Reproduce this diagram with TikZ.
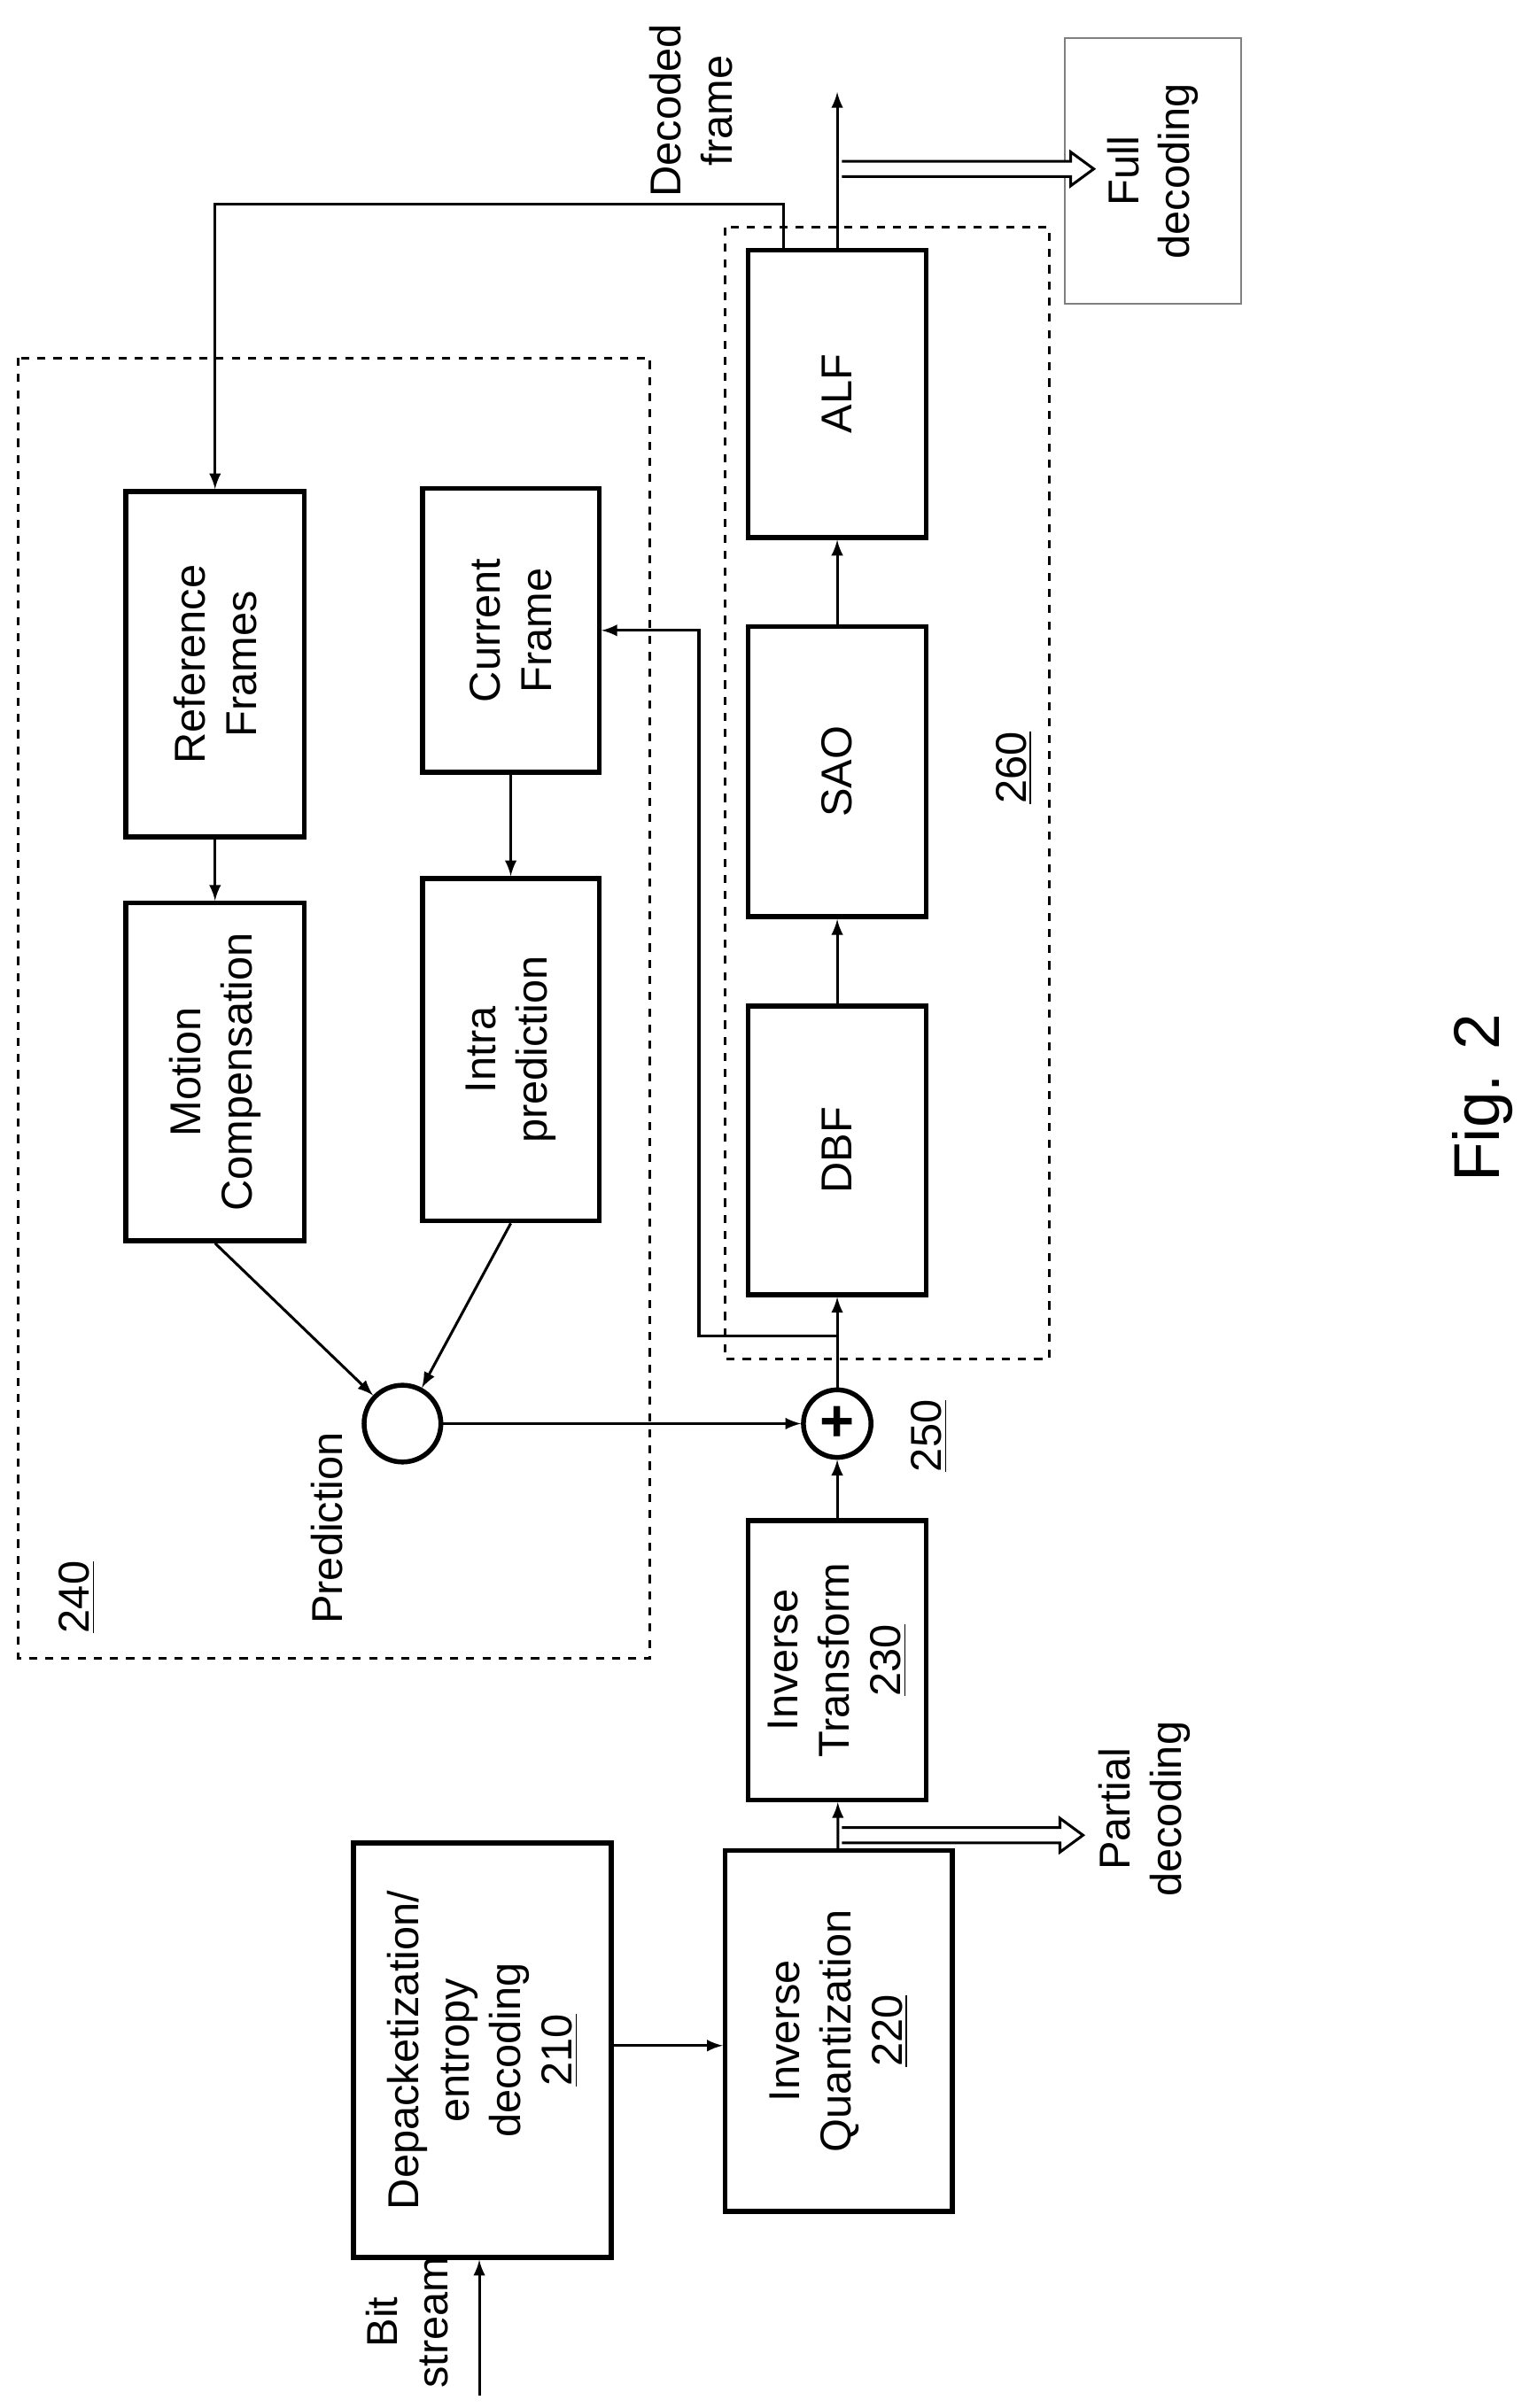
\documentclass[tikz,border=0pt]{standalone}
\usepackage{fontspec}
\setmainfont{Liberation Sans}
\begin{document}
\begin{tikzpicture}[x=0.02cm,y=-0.02cm,
  every node/.style={font=\fontsize{16}{19}\selectfont},
  box/.style={draw,line width=1.8pt,rotate=90,align=center,inner sep=0pt},
  lbl/.style={rotate=90,align=center},
  arr/.style={->,>=latex,line width=1pt},
  dashbox/.style={draw,dashed,line width=1pt}]
\useasboundingbox (0,0) rectangle (1000,1568);
\draw[dashbox] (12,233) rectangle (423,1080);
\draw[dashbox] (472,148) rectangle (683,885);
\node[box,minimum width=4.5cm,minimum height=2.32cm] (ref) at (140,432.5) {Reference\\Frames};
\node[box,minimum width=4.4cm,minimum height=2.32cm] (mc) at (140,698) {Motion\\Compensation};
\node[box,minimum width=3.7cm,minimum height=2.3cm] (cur) at (332.5,410.5) {Current\\Frame};
\node[box,minimum width=4.46cm,minimum height=2.3cm] (intra) at (332.5,683.5) {Intra\\prediction};
\node[box,minimum width=3.74cm,minimum height=2.32cm] (alf) at (545,256.5) {ALF};
\node[box,minimum width=3.78cm,minimum height=2.32cm] (sao) at (545,502.5) {SAO};
\node[box,minimum width=3.76cm,minimum height=2.32cm] (dbf) at (545,749) {DBF};
\node[box,minimum width=3.64cm,minimum height=2.32cm] (it) at (545,1081) {Inverse\\Transform\\\underline{230}};
\node[box,minimum width=4.7cm,minimum height=2.96cm] (iq) at (546,1322.5) {Inverse\\Quantization\\\underline{220}};
\node[box,minimum width=5.4cm,minimum height=3.36cm] (dep) at (314,1335) {Depacketization/\\entropy\\decoding\\\underline{210}};
\node[draw=gray,line width=0.6pt,rotate=90,align=center,minimum width=3.46cm,minimum height=2.3cm] (full) at (750.5,111.5) {Full\\decoding};
\node[draw,circle,line width=1.8pt,minimum size=1cm,inner sep=0pt] (pred) at (262,927) {};
\node[draw,circle,line width=1.8pt,minimum size=0.88cm,inner sep=0pt,font=\fontsize{22}{24}\selectfont\bfseries] (sum) at (545,927) {+};
\node[lbl] (plbl) at (213,995) {Prediction};
\node[lbl] (l240) at (50,1040) {\underline{240}};
\node[lbl] (l260) at (660,500) {\underline{260}};
\node[lbl] (l250) at (605,935) {\underline{250}};
\node[lbl] (bits) at (265,1512) {Bit\\stream};
\node[lbl] (part) at (745,1178) {Partial\\decoding};
\node[lbl] (dec) at (450,72) {Decoded\\frame};
\node[rotate=90,font=\fontsize{24}{28}\selectfont] (fig) at (965,715) {Fig. 2};
\coordinate (bsin) at (312,1560);
\coordinate (out) at (545,60);
\coordinate (fb) at (510,0);
\coordinate (br) at (545,870);
\coordinate (brl) at (455,870);
\coordinate (dq) at (0,1332);
\draw[arr] (ref) -- (mc);
\draw[arr] (cur) -- (intra);
\draw[arr] (mc.west) -- (pred);
\draw[arr] (intra.west) -- (pred);
\draw[arr] (pred) -- (sum);
\draw[arr] (bsin) -- (bsin |- dep.west);
\draw[arr] (dep.south |- dq) -- (iq.north |- dq);
\draw[arr] (iq) -- (it);
\draw[arr] (it) -- (sum);
\draw[arr] (sum) -- (dbf);
\draw[arr] (dbf) -- (sao);
\draw[arr] (sao) -- (alf);
\draw[arr] (alf.east) -- (out);
\draw[arr] (br) -- (brl) |- (cur);
\draw[arr] (alf.east -| fb) -- (510,133) -| (ref);
\newcommand{\hollowarrow}[3]{\draw[line width=1pt,fill=white] (#1,#2-5) -- (#3-15,#2-5) -- (#3-15,#2-11) -- (#3,#2) -- (#3-15,#2+11) -- (#3-15,#2+5) -- (#1,#2+5);}
\hollowarrow{548}{1195}{705}
\hollowarrow{548}{110}{712}
\end{tikzpicture}
\end{document}
